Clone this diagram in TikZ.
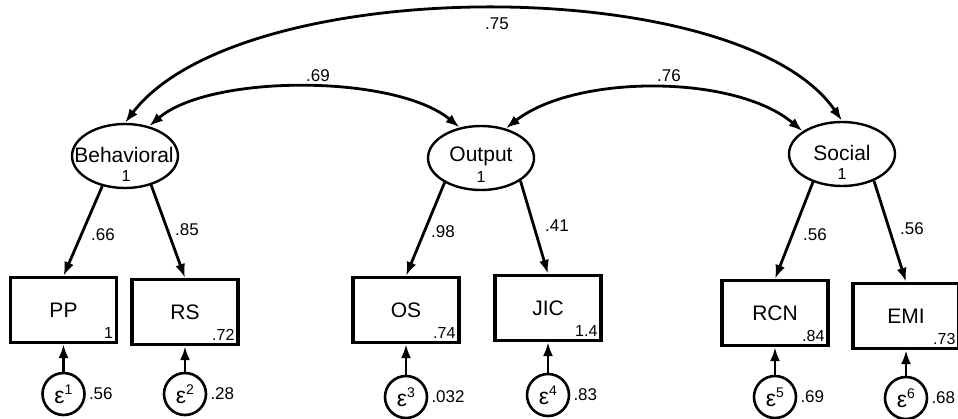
\documentclass[tikz,border=0pt]{standalone}
\usepackage{fontspec}
\setmainfont{Liberation Sans}
\usetikzlibrary{arrows.meta,shapes.geometric}
\begin{document}
\begin{tikzpicture}[x=1pt,y=-1pt,
  lat/.style={ellipse,draw,line width=2.4pt,minimum width=106pt,minimum height=64pt,inner sep=0pt},
  obs/.style={rectangle,draw,line width=3.2pt,minimum width=106pt,minimum height=65pt,inner sep=0pt,font=\fontsize{21}{24}\selectfont},
  err/.style={circle,draw,line width=2.6pt,minimum size=42pt,inner sep=0pt,font=\fontsize{23}{24}\selectfont},
  arr/.style={line width=2.8pt,-{Latex[length=14pt,width=10pt]}},
  dbl/.style={line width=2.8pt,{Latex[length=14pt,width=10pt]}-{Latex[length=14pt,width=10pt]}},
  lbl/.style={font=\fontsize{17}{20}\selectfont,inner sep=0pt},
  big/.style={font=\fontsize{21}{24}\selectfont,inner sep=0pt},
  small/.style={font=\fontsize{16}{18}\selectfont,inner sep=0pt},
  inbox/.style={font=\fontsize{16}{18}\selectfont,inner sep=0pt,anchor=south east,xshift=-5pt,yshift=5pt},
  var/.style={font=\fontsize{17}{20}\selectfont,inner sep=0pt,anchor=west,xshift=3pt}
]
\useasboundingbox (0,0) rectangle (958,419);
\clip (0,0) rectangle (958,419);

% latent variables
\node[lat] (beh) at (125,156) {};
\node[lat] (out) at (481,158) {};
\node[lat] (soc) at (842,154) {};
\node[big] (behT) at (124,155) {Behavioral};
\node[small] (behV) at (126,176) {1};
\node[big] (outT) at (481,156) {Output};
\node[small] (outV) at (481,177) {1};
\node[big] (socT) at (842,153) {Social};
\node[small] (socV) at (842,174) {1};

% observed variables
\node[obs] (pp) at (63.5,310) {PP};
\node[obs] (rs) at (185,312) {RS};
\node[obs] (os) at (406,310) {OS};
\node[obs] (jic) at (548,308) {JIC};
\node[obs] (rcn) at (775,313) {RCN};
\node[obs] (emi) at (906,316) {EMI};
\node[inbox] (ppV) at (pp.south east) {1};
\node[inbox] (rsV) at (rs.south east) {.72};
\node[inbox] (osV) at (os.south east) {.74};
\node[inbox] (jicV) at (jic.south east) {1.4};
\node[inbox] (rcnV) at (rcn.south east) {.84};
\node[inbox] (emiV) at (emi.south east) {.73};

% error terms
\newcommand{\epsl}[1]{ε\raisebox{0.75ex}{\fontsize{14}{14}\selectfont #1}}
\node[err] (e1) at (63.5,394) {\epsl{1}};
\node[err] (e2) at (185,394) {\epsl{2}};
\node[err] (e3) at (406,397) {\epsl{3}};
\node[err] (e4) at (548,395) {\epsl{4}};
\node[err] (e5) at (775,397) {\epsl{5}};
\node[err] (e6) at (906,398) {\epsl{6}};
\node[var] (e1V) at (e1.east) {.56};
\node[var] (e2V) at (e2.east) {.28};
\node[var] (e3V) at (e3.east) {.032};
\node[var] (e4V) at (e4.east) {.83};
\node[var] (e5V) at (e5.east) {.69};
\node[var] (e6V) at (e6.east) {.68};

% loadings
\draw[arr] (beh.233) -- (pp.north);
\draw[arr] (beh.312) -- (rs.north);
\draw[arr] (out.214) -- (os.north);
\draw[arr] (out.330) -- (jic.north);
\draw[arr] (soc.224) -- (rcn.north);
\draw[arr] (soc.320) -- (emi.north);
\node[lbl] (l1) at (103,235) {.66};
\node[lbl] (l2) at (187,230) {.85};
\node[lbl] (l3) at (443,232) {.98};
\node[lbl] (l4) at (557,226) {.41};
\node[lbl] (l5) at (815,235) {.56};
\node[lbl] (l6) at (912,229) {.56};

% error paths
\draw[arr] (e1) -- (pp);
\draw[arr] (e2) -- (rs);
\draw[arr] (e3) -- (os);
\draw[arr] (e4) -- (jic);
\draw[arr] (e5) -- (rcn);
\draw[arr] (e6) -- (emi);

% covariances
\draw[dbl] (beh.north) .. controls (240,-28) and (740,-28) .. (soc.north);
\draw[dbl] (beh.51) .. controls (210,74) and (395,74) .. (out.125);
\draw[dbl] (out.50) .. controls (575,74) and (735,74) .. (soc.150);
\node[lbl] (c1) at (497,24) {.75};
\node[lbl] (c2) at (318,76) {.69};
\node[lbl] (c3) at (669,76) {.76};
\end{tikzpicture}
\end{document}
